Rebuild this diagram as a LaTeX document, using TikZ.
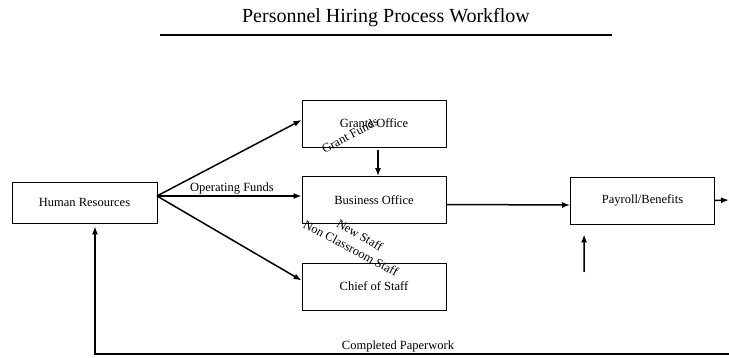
\documentclass[tikz,border=0pt]{standalone}
\usepackage{fontspec}
\setmainfont{Liberation Serif}
\usetikzlibrary{arrows.meta}

\begin{document}
\begin{tikzpicture}[x=1pt,y=-1pt,>={Latex[length=8pt,width=6pt]}]
\tikzset{office/.style={draw, line width=0.8pt, minimum width=144pt, minimum height=47pt, inner sep=0pt, font=\fontsize{12.5}{14}\selectfont},
  flowlabel/.style={inner sep=0pt, font=\fontsize{12.5}{14}\selectfont}}
\useasboundingbox (0,0) rectangle (729,358);
\node[font=\fontsize{20}{22}\selectfont] (title) at (386,18) {Personnel Hiring Process Workflow};
\draw[line width=2pt] (160,35) -- (612,35);
\node[office, minimum width=145pt, minimum height=41pt] (hr) at (84.5,202.5) {Human Resources};
\node[office] (grants) at (374,123.5) {Grants Office};
\node[office] (business) at (374,200) {Business Office};
\node[office] (chief) at (374,286.5) {Chief of Staff};
\node[office] (payroll) at (642.5,200.5) {Payroll/Benefits};
\coordinate (fan) at (157,196);
\coordinate (payout) at (729,200);
\coordinate (payin) at (584,272);
\coordinate (back) at (729,354);
\path[draw,line width=1.5pt,->] (fan) -- ([yshift=3.5pt]grants.west);
\path[draw,line width=1.5pt,->] (fan) -- ([yshift=4pt]business.west);
\path[draw,line width=1.5pt,->] (fan) -- ([yshift=6pt]chief.west);
\path[draw,line width=1.5pt,->,shorten <=3pt] ([xshift=4pt]grants.south) -- ([xshift=4pt]business.north);
\path[draw,line width=1.5pt,->] ([yshift=-4.5pt]business.east) -- ([yshift=-4.5pt]payroll.west);
\path[draw,line width=1.5pt,->] (payroll.east) -- (payout);
\path[draw,line width=1.5pt,->] (payin) -- ([xshift=14pt,yshift=-10pt]payroll.south west);
\path[draw,line width=1.5pt,->] (back) -| ([xshift=10.5pt,yshift=-3pt]hr.south);
\node[flowlabel] (opfunds) at (232,189) {Operating Funds};
\node[flowlabel, rotate=28] (grantfunds) at (350,135) {Grant Funds};
\node[flowlabel, rotate=-30] (newstaff) at (360,235) {New Staff};
\node[flowlabel, rotate=-28] (nonclass) at (351,248) {Non Classroom Staff};
\node[flowlabel] (paperwork) at (398,346) {Completed Paperwork};
\end{tikzpicture}
\end{document}
